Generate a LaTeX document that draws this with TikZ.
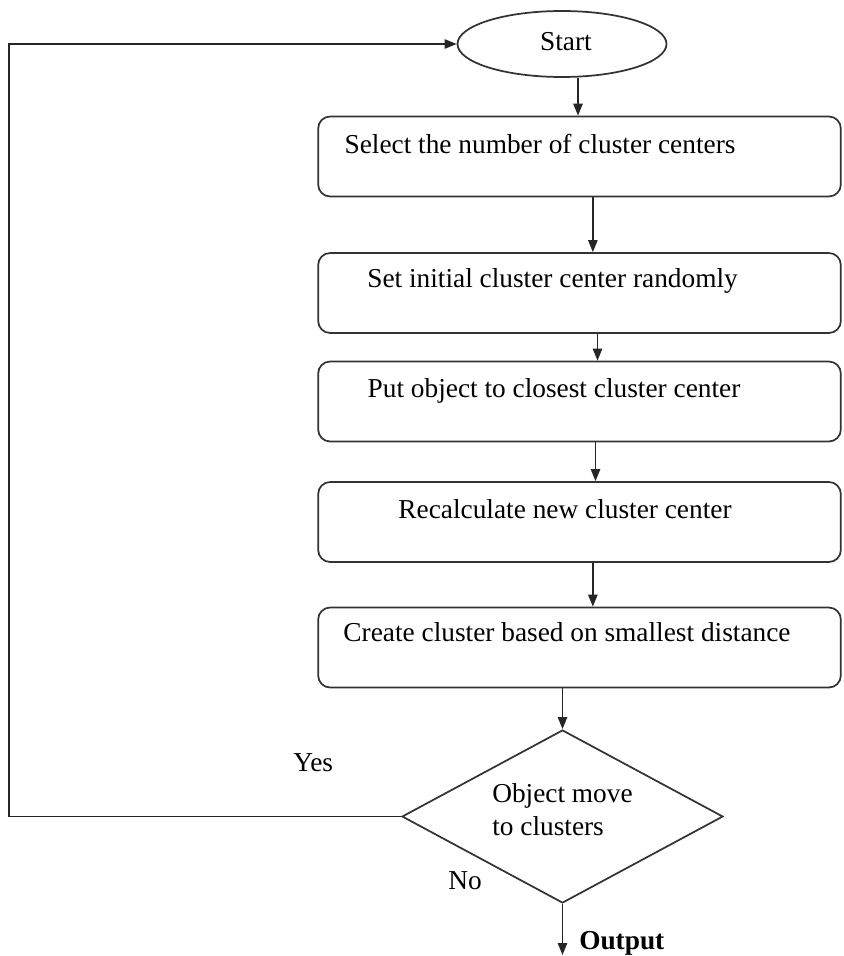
\documentclass[tikz,border=0pt]{standalone}
\usepackage{fontspec}
\setmainfont{Liberation Serif}
\usetikzlibrary{shapes.geometric,arrows.meta}
\begin{document}
\begin{tikzpicture}[x=0.75pt,y=-0.75pt,
  every node/.style={font=\fontsize{20.5}{24}\selectfont},
  line/.style={draw=black!80,line width=1.3pt},
  stepbox/.style={line,rounded corners=9pt,minimum width=392pt,minimum height=60pt,inner sep=0pt},
  arr/.style={draw=black!85,line width=1.2pt,-{Triangle[length=9pt,width=7pt]}},
  txt/.style={inner sep=0pt,anchor=base},
  ltxt/.style={inner sep=0pt,anchor=base west}]
\useasboundingbox (0,0) rectangle (843,956);

% shapes
\node[line,ellipse,minimum width=156.75pt,minimum height=49.5pt,inner sep=0pt] (start) at (562,44) {};
\node[stepbox] (b1) at (579.5,156.5) {};
\node[stepbox] (b2) at (579.5,293) {};
\node[stepbox] (b3) at (579.5,401.5) {};
\node[stepbox] (b4) at (579.5,522) {};
\node[stepbox] (b5) at (579.5,647.5) {};
\node[line,diamond,minimum width=240.75pt,minimum height=129.75pt,inner sep=0pt] (d) at (562.5,816.5) {};

% texts
\node[txt] (tstart) at (566,51) {Start};
\node[txt] (t1) at (540,153) {Select the number of cluster centers};
\node[txt] (t2) at (552.5,287) {Set initial cluster center randomly};
\node[txt] (t3) at (554,397) {Put object to closest cluster center};
\node[txt] (t4) at (565,518) {Recalculate new cluster center};
\node[txt] (t5) at (567,641) {Create cluster based on smallest distance};
\node[ltxt] (td1) at (492,802) {Object move};
\node[ltxt] (td2) at (492,835) {to clusters};
\node[ltxt] (tyes) at (293,771) {Yes};
\node[ltxt] (tno) at (448,889) {No};
\node[ltxt,font=\fontsize{20.5}{24}\selectfont\bfseries] (tout) at (579,949) {Output};

% connectors
\coordinate (lt) at (9,44);
\coordinate (oend) at (562.5,955);
\draw[arr] ([xshift=12pt]start.south) -- ([xshift=12pt]start.south |- b1.north);
\draw[arr] ([xshift=10pt]b1.south) -- ([xshift=10pt]b2.north);
\draw[arr] ([xshift=13.5pt]b2.south) -- ([xshift=13.5pt]b3.north);
\draw[arr] ([xshift=12pt]b3.south) -- ([xshift=12pt]b4.north);
\draw[arr] ([xshift=10pt]b4.south) -- ([xshift=10pt]b5.north);
\draw[arr] (b5.south -| d.north) -- (d.north);
\draw[arr] (d.west) -| (lt) -- (start.west);
\draw[arr] (d.south) -- (oend);
\end{tikzpicture}
\end{document}
